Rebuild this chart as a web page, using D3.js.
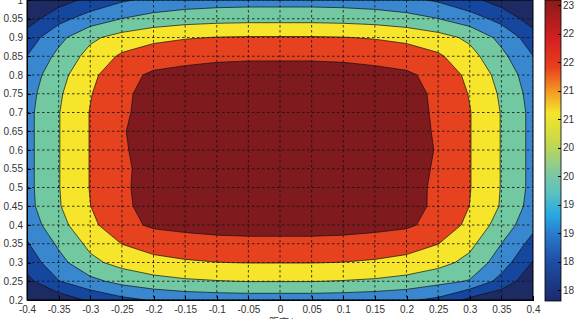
<!DOCTYPE html>
<html lang="zh">
<head>
<meta charset="utf-8">
<title>contour</title>
<script src="https://cdn.jsdelivr.net/npm/d3@7"></script>
<style>
body{margin:0;background:#fff;}
.axis text{font-family:"Liberation Sans",Arial,sans-serif;font-size:10px;fill:#333;}
.axis path,.axis line{stroke:#000;shape-rendering:crispEdges;}
</style>
</head>
<body>
<script>
var w = 574, h = 319;
var plot = {left: 27, right: 533, top: 0, bottom: 300};

// grid coordinates (x across, y rows from top to bottom)
var xVals = [-0.4,-0.35,-0.3,-0.25,-0.2,-0.15,-0.1,-0.05,0,0.05,0.1,0.15,0.2,0.25,0.3,0.35,0.4];
var yVals = [1.0,0.95,0.9,0.85,0.8,0.75,0.7,0.65,0.6,0.55,0.5,0.45,0.4,0.35,0.3,0.25,0.2];
// temperature values, one row per yVals entry
var z = [
 [17.57,18.18,18.71,19.11,19.36,19.50,19.57,19.60,19.60,19.60,19.57,19.50,19.36,19.11,18.71,18.18,17.57],
 [18.16,18.98,19.51,19.91,20.16,20.30,20.37,20.40,20.40,20.40,20.37,20.30,20.16,19.91,19.51,18.98,18.16],
 [18.83,19.70,20.46,20.86,21.11,21.25,21.32,21.35,21.35,21.35,21.32,21.25,21.11,20.86,20.46,19.70,18.83],
 [19.21,20.08,20.84,21.41,21.70,21.80,21.87,21.90,21.90,21.90,21.87,21.80,21.70,21.41,20.84,20.08,19.21],
 [19.49,20.36,21.12,21.80,22.10,22.20,22.27,22.30,22.30,22.30,22.27,22.20,22.10,21.80,21.12,20.36,19.49],
 [19.63,20.50,21.26,21.88,22.22,22.38,22.47,22.50,22.50,22.50,22.47,22.38,22.22,21.88,21.26,20.50,19.63],
 [19.70,20.57,21.33,21.90,22.25,22.45,22.55,22.60,22.60,22.60,22.55,22.45,22.25,21.90,21.33,20.57,19.70],
 [19.70,20.57,21.33,21.96,22.25,22.45,22.55,22.60,22.60,22.60,22.55,22.45,22.25,21.93,21.33,20.57,19.70],
 [19.70,20.57,21.33,21.93,22.25,22.45,22.55,22.60,22.60,22.60,22.55,22.45,22.25,21.96,21.33,20.57,19.70],
 [19.70,20.57,21.33,21.88,22.25,22.45,22.55,22.60,22.60,22.60,22.55,22.45,22.25,21.92,21.33,20.57,19.70],
 [19.70,20.57,21.33,21.90,22.25,22.45,22.55,22.60,22.60,22.60,22.55,22.45,22.25,21.87,21.33,20.57,19.70],
 [19.67,20.54,21.29,21.88,22.22,22.42,22.52,22.55,22.55,22.55,22.52,22.42,22.22,21.88,21.29,20.54,19.62],
 [19.49,20.36,21.12,21.80,22.10,22.20,22.27,22.30,22.30,22.30,22.27,22.20,22.10,21.78,21.12,20.30,19.40],
 [19.14,20.01,20.77,21.31,21.60,21.70,21.77,21.80,21.80,21.80,21.77,21.70,21.60,21.31,20.77,19.90,18.95],
 [18.80,19.67,20.43,20.83,21.08,21.22,21.29,21.32,21.32,21.32,21.29,21.22,21.08,20.83,20.40,19.55,18.45],
 [18.30,19.17,19.71,20.11,20.36,20.50,20.57,20.62,20.62,20.62,20.57,20.50,20.36,20.11,19.85,18.95,18.00],
 [17.47,18.08,18.61,19.01,19.26,19.40,19.47,19.50,19.50,19.50,19.47,19.40,19.30,19.05,18.30,17.90,17.30]
];
var levels = [18.5, 19.2, 19.9, 20.6, 21.3, 22.0];
var fillColors = ["#1c2b64","#15479f","#3987cf","#72c8a1","#f6e52b","#e7421f","#7f1a1f"];

var xTicks = [-0.4,-0.35,-0.3,-0.25,-0.2,-0.15,-0.1,-0.05,0,0.05,0.1,0.15,0.2,0.25,0.3,0.35,0.4];
var yTicks = [0.2,0.25,0.3,0.35,0.4,0.45,0.5,0.55,0.6,0.65,0.7,0.75,0.8,0.85,0.9,0.95,1];
var cbTicks = [18,18.5,19,19.5,20,20.5,21,21.5,22,22.5,23];
var cbLabels = ["18","18","19","19","20","20","21","21","22","22","23"];
var cbStopVals = [17.81,18.5,19.0,19.3,19.7,20.1,20.6,21.1,21.45,21.9,22.4,23.09];
var cbStopCols = ["#1a2a6c","#1e4ea6","#2a7ccc","#27a7e0","#5cc0c0","#86c99a","#c8d84a","#f5e52a","#f4a025","#e8401e","#d42020","#8a1a1a"];

var svg = d3.select("body").append("svg").attr("width", w).attr("height", h);

var x = d3.scaleLinear().domain([-0.4, 0.4]).range([plot.left, plot.right]);
var y = d3.scaleLinear().domain([0.2, 1]).range([plot.bottom, plot.top]);

svg.append("clipPath").attr("id", "clip")
  .append("rect").attr("x", plot.left).attr("y", plot.top)
  .attr("width", plot.right - plot.left).attr("height", plot.bottom - plot.top);

var g = svg.append("g").attr("clip-path", "url(#clip)");
g.append("rect").attr("x", plot.left).attr("y", plot.top)
  .attr("width", plot.right - plot.left).attr("height", plot.bottom - plot.top)
  .attr("fill", fillColors[0]);

// contour grid -> data coords (d3.contours puts sample i at i+0.5)
var n = xVals.length, m = yVals.length;
var flat = [].concat.apply([], z);
var gx = d3.scaleLinear().domain([0.5, n - 0.5]).range([xVals[0], xVals[n - 1]]);
var gy = d3.scaleLinear().domain([0.5, m - 0.5]).range([yVals[0], yVals[m - 1]]);
var proj = d3.geoTransform({point: function(px, py) { this.stream.point(x(gx(px)), y(gy(py))); }});
var path = d3.geoPath(proj);
var contours = d3.contours().size([n, m]).thresholds(levels)(flat);

g.selectAll("path.c").data(contours).enter().append("path")
  .attr("class", "c")
  .attr("d", path)
  .attr("fill", function(d, i) { return fillColors[i + 1]; })
  .attr("stroke", "#111").attr("stroke-width", 0.7);

// dotted grid
g.selectAll("line.gx").data(xTicks).enter().append("line")
  .attr("x1", function(d) { return x(d); }).attr("x2", function(d) { return x(d); })
  .attr("y1", plot.top).attr("y2", plot.bottom)
  .attr("stroke", "#111").attr("stroke-width", 0.8).attr("stroke-dasharray", "2.5,2.5");
g.selectAll("line.gy").data(yTicks).enter().append("line")
  .attr("y1", function(d) { return y(d); }).attr("y2", function(d) { return y(d); })
  .attr("x1", plot.left).attr("x2", plot.right)
  .attr("stroke", "#111").attr("stroke-width", 0.8).attr("stroke-dasharray", "2.5,2.5");

svg.append("rect").attr("x", plot.left).attr("y", plot.top)
  .attr("width", plot.right - plot.left).attr("height", plot.bottom - plot.top)
  .attr("fill", "none").attr("stroke", "#000").attr("stroke-width", 1);

var xAxis = d3.axisBottom(x).tickValues(xTicks).tickSizeInner(-4).tickSizeOuter(0).tickPadding(6)
  .tickFormat(function(d) { return String(d); });
svg.append("g").attr("class", "axis").attr("transform", "translate(0," + plot.bottom + ")").call(xAxis);

var yAxis = d3.axisLeft(y).tickValues(yTicks).tickSizeInner(-4).tickSizeOuter(0).tickPadding(4)
  .tickFormat(function(d) { return String(d); });
svg.append("g").attr("class", "axis").attr("transform", "translate(" + plot.left + ",0)").call(yAxis);

// axis titles (mostly cut by the picture edge)
svg.append("text").attr("x", 283).attr("y", 326).attr("text-anchor", "middle")
  .style("font-family", "'Noto Sans CJK SC',sans-serif").style("font-size", "10px").attr("fill", "#333")
  .text("x距离/m");
svg.append("text").attr("transform", "translate(-3,150) rotate(-90)").attr("text-anchor", "middle")
  .style("font-family", "'Noto Sans CJK SC',sans-serif").style("font-size", "10px").attr("fill", "#333")
  .text("y距离/m");

// colorbar
var cb = {left: 545, width: 16, top: 0, bottom: 301};
var cy = d3.scaleLinear().domain([18, 23]).range([290, 5]);
var lo = cy.invert(cb.bottom), hi = cy.invert(cb.top);
var grad = svg.append("defs").append("linearGradient").attr("id", "cbgrad")
  .attr("gradientUnits", "userSpaceOnUse")
  .attr("x1", 0).attr("x2", 0).attr("y1", cb.bottom).attr("y2", cb.top);
grad.selectAll("stop").data(cbStopVals).enter().append("stop")
  .attr("offset", function(d) { return (d - lo) / (hi - lo); })
  .attr("stop-color", function(d, i) { return cbStopCols[i]; });
svg.append("rect").attr("x", cb.left).attr("y", cb.top).attr("width", cb.width)
  .attr("height", cb.bottom - cb.top).attr("fill", "url(#cbgrad)")
  .attr("stroke", "#000").attr("stroke-width", 0.8);
var cAxis = d3.axisRight(cy).tickValues(cbTicks).tickSizeInner(-3).tickSizeOuter(0).tickPadding(2)
  .tickFormat(function(d, i) { return cbLabels[i]; });
svg.append("g").attr("class", "axis").attr("transform", "translate(" + (cb.left + cb.width) + ",0)").call(cAxis)
  .select(".domain").remove();
</script>
</body>
</html>
